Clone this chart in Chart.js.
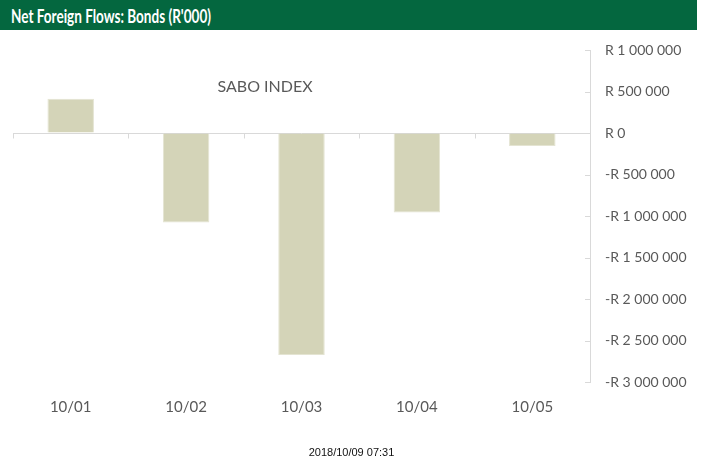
<!DOCTYPE html>
<html>
<head>
<meta charset="utf-8">
<script src="https://cdn.jsdelivr.net/npm/chart.js@4/dist/chart.umd.min.js"></script>
<style>
html,body{margin:0;padding:0;background:#fff;}
#wrap{position:relative;width:703px;height:461px;overflow:hidden;}
#hdr{position:absolute;left:0;top:0;width:697px;height:30px;background:#04673F;}
#hdr span{position:absolute;left:11px;top:4px;color:#fff;font:bold 19px Lato, "Open Sans", sans-serif;white-space:nowrap;display:inline-block;transform-origin:0 0;}
#c{position:absolute;left:0;top:0;}
#foot{position:absolute;left:0;width:703px;top:446px;text-align:center;font:11px "Liberation Sans", Arial, sans-serif;color:#111;}
</style>
</head>
<body>
<div id="wrap">
<canvas id="c" width="703" height="461"></canvas>
<div id="hdr"><span id="ttl">Net Foreign Flows: Bonds (R'000)</span></div>
<div id="foot">2018/10/09 07:31</div>
</div>
<script>
const categories = ["10/01", "10/02", "10/03", "10/04", "10/05"];
const flows = [413000, -1077000, -2675000, -957000, -157000];
const yMin = -3000000, yMax = 1000000, yStep = 500000;
const chartLabel = "SABO INDEX";

// fit header text width to reference (~200px)
(function(){const s=document.getElementById('ttl');const w=s.getBoundingClientRect().width;const target=200;if(w>0)s.style.transform='scaleX('+(target/w)+')';})();

function fmt(v){
  const a = Math.abs(v);
  const s = String(Math.round(a)).replace(/\B(?=(\d{3})+(?!\d))/g, ' ');
  return (v < 0 ? '-' : '') + 'R ' + s;
}

const extras = {
  id: 'extras',
  afterDraw(chart){
    const ctx = chart.ctx, ca = chart.chartArea;
    const y = chart.scales.y, x = chart.scales.x;
    ctx.save();
    ctx.strokeStyle = '#d9d9d9';
    ctx.lineWidth = 1;
    y.ticks.forEach(t => {
      const py = Math.round(y.getPixelForValue(t.value)) + 0.5;
      ctx.beginPath(); ctx.moveTo(ca.right - 5, py); ctx.lineTo(ca.right, py); ctx.stroke();
    });
    const zy = Math.round(y.getPixelForValue(0)) + 0.5;
    const n = categories.length;
    const step = (ca.right - ca.left) / n;
    for (let i = 0; i <= n; i++) {
      const px = Math.round(ca.left + i * step) + 0.5;
      ctx.beginPath(); ctx.moveTo(px, zy); ctx.lineTo(px, zy + 5); ctx.stroke();
    }
    ctx.fillStyle = '#595959';
    ctx.font = '16px Lato, "Open Sans", sans-serif';
    ctx.textAlign = 'center';
    ctx.textBaseline = 'middle';
    ctx.fillText(chartLabel, 265, 87);
    ctx.restore();
  }
};

new Chart(document.getElementById('c'), {
  type: 'bar',
  data: {
    labels: categories,
    datasets: [{
      data: flows,
      backgroundColor: '#D4D4B8',
      borderColor: '#E4E4D2',
      borderWidth: 1,
      barPercentage: 0.403,
      categoryPercentage: 1.0
    }]
  },
  options: {
    responsive: false,
    animation: false,
    events: [],
    layout: { padding: { left: 13, top: 50, right: 0, bottom: 0 } },
    plugins: { legend: { display: false }, title: { display: false }, tooltip: { enabled: false } },
    scales: {
      x: {
        position: 'bottom',
        grid: { display: false, drawTicks: false },
        border: { display: false },
        ticks: { color: '#595959', font: { family: 'Lato, "Open Sans", sans-serif', size: 15 }, padding: 16, maxRotation: 0 },
        afterFit(s){ s.height = 79; }
      },
      y: {
        position: 'right',
        min: yMin, max: yMax,
        grid: {
          drawTicks: false,
          color: c => (c.tick && c.tick.value === 0) ? '#d9d9d9' : 'rgba(0,0,0,0)',
          lineWidth: 1
        },
        border: { display: true, color: '#d9d9d9' },
        ticks: {
          stepSize: yStep,
          color: '#595959',
          font: { family: 'Lato, "Open Sans", sans-serif', size: 14 },
          padding: 15,
          callback: v => fmt(v)
        },
        afterFit(s){ s.width = 113; }
      }
    }
  },
  plugins: [extras]
});
</script>
</body>
</html>
